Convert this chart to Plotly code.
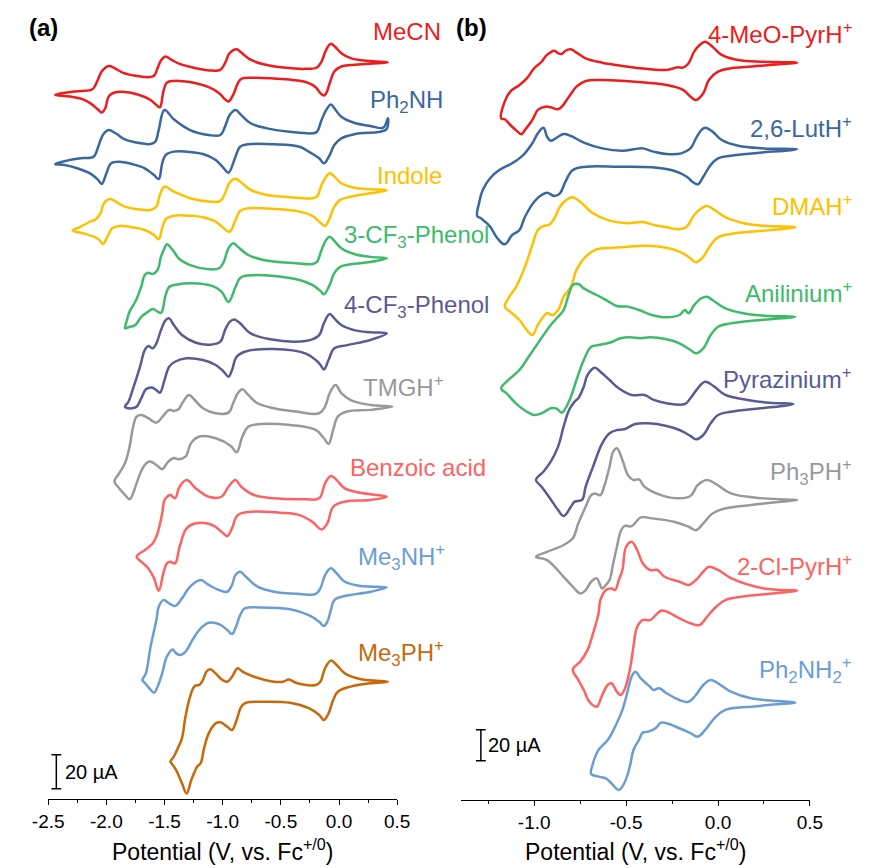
import plotly.graph_objects as go

# ---------------- Panel (a): potential (V vs Fc+/0) and current (uA, relative to switching point)
MECN_E = [-2.44, -2.34, -2.22, -2.12, -2.08, -2.04, -1.98, -1.93, -1.86, -1.75, -1.64, -1.59, -1.56, -1.53, -1.49, -1.45, -1.37, -1.23, -1.09, -1.02, -0.98, -0.94, -0.88, -0.84, -0.77, -0.65, -0.48, -0.29, -0.19, -0.15, -0.11, -0.07, -0.03, 0.02, 0.10, 0.24, 0.42,
          0.32, 0.16, 0.02, -0.04, -0.08, -0.11, -0.13, -0.16, -0.20, -0.27, -0.40, -0.56, -0.73, -0.84, -0.87, -0.91, -0.95, -0.98, -1.03, -1.12, -1.23, -1.34, -1.42, -1.48, -1.51, -1.54, -1.57, -1.63, -1.73, -1.84, -1.93, -1.98, -2.01, -2.04, -2.07, -2.13, -2.21, -2.31, -2.44]
MECN_I = [-19.2, -17.8, -16.9, -15.9, -11.4, -5.5, -2.2, -3.5, -6.1, -8.0, -8.8, -8.0, -3.5, 1.0, 3.3, 1.8, -1.0, -3.5, -4.9, -4.5, -0.6, 5.3, 7.6, 5.7, 1.8, -1.2, -3.1, -3.9, -3.1, 0.4, 7.3, 10.8, 8.8, 5.3, 2.4, 0.8, 0,
          -0.6, -1.4, -2.5, -5.5, -12.4, -18.2, -19.6, -18.2, -14.7, -12.0, -10.4, -9.6, -9.2, -9.8, -12.4, -19.2, -23.1, -21.8, -18.2, -14.7, -12.4, -11.2, -11.0, -12.0, -17.3, -26.5, -25.1, -21.8, -19.0, -17.5, -17.8, -20.2, -27.1, -29.6, -28.0, -24.5, -21.6, -20.2, -19.2]

PH2NH_E = [-2.44, -2.34, -2.22, -2.11, -2.07, -2.03, -1.98, -1.92, -1.84, -1.73, -1.62, -1.58, -1.55, -1.50, -1.42, -1.28, -1.12, -1.02, -0.98, -0.94, -0.89, -0.84, -0.76, -0.62, -0.42, -0.23, -0.19, -0.15, -0.11, -0.07, -0.04, 0.02, 0.13, 0.27, 0.38, 0.42,
           0.41, 0.34, 0.21, 0.13, 0.02, -0.04, -0.08, -0.13, -0.17, -0.26, -0.34, -0.56, -0.78, -0.85, -0.89, -0.95, -0.99, -1.06, -1.17, -1.31, -1.42, -1.49, -1.52, -1.55, -1.59, -1.67, -1.78, -1.89, -1.96, -2.00, -2.04, -2.07, -2.14, -2.25, -2.36, -2.44]
PH2NH_I = [-26.9, -24.9, -23.5, -22.6, -16.7, -9.8, -6.9, -8.8, -12.4, -14.4, -15.1, -13.8, -6.9, 4.9, -0.6, -6.9, -9.8, -9.8, -4.9, 1.9, 4.9, 1.9, -2.9, -5.9, -7.9, -8.8, -7.9, -1.0, 4.9, 8.2, 5.9, 0.9, -2.6, -4.5, -5.5, 0,
           -6.3, -8.1, -8.6, -9.4, -11.8, -15.7, -21.6, -26.5, -23.5, -19.6, -16.7, -15.3, -15.3, -16.7, -22.6, -32.0, -29.4, -24.5, -21.0, -19.6, -19.6, -21.6, -26.5, -35.7, -33.4, -29.4, -26.9, -25.5, -26.5, -32.4, -38.6, -36.3, -32.4, -29.4, -27.5, -26.9]

INDOLE_E = [-2.29, -2.22, -2.14, -2.09, -2.05, -2.02, -1.97, -1.92, -1.84, -1.73, -1.62, -1.57, -1.54, -1.50, -1.42, -1.28, -1.12, -1.02, -0.98, -0.94, -0.89, -0.84, -0.76, -0.62, -0.42, -0.23, -0.19, -0.15, -0.11, -0.08, -0.04, 0.02, 0.13, 0.27, 0.41,
            0.27, 0.10, 0.01, -0.04, -0.08, -0.12, -0.16, -0.23, -0.34, -0.56, -0.78, -0.85, -0.89, -0.94, -0.99, -1.06, -1.17, -1.31, -1.42, -1.49, -1.52, -1.55, -1.59, -1.67, -1.78, -1.89, -1.95, -1.99, -2.03, -2.06, -2.11, -2.20, -2.29]
INDOLE_I = [-23.8, -21.4, -18.5, -17.1, -13.5, -7.6, -5.1, -6.7, -9.6, -11.2, -11.6, -9.6, -2.8, 2.1, -0.8, -4.7, -6.7, -6.3, -1.8, 4.5, 6.8, 4.5, 0.2, -2.8, -4.1, -4.7, -3.8, 3.1, 8.0, 10.0, 8.0, 4.1, 1.5, 0.6, 0,
            -1.8, -3.8, -5.7, -9.6, -16.5, -21.0, -19.1, -15.1, -12.6, -11.0, -10.6, -12.2, -17.5, -24.4, -22.4, -18.5, -15.9, -14.9, -15.1, -17.1, -22.4, -28.8, -26.3, -23.4, -21.8, -21.0, -22.4, -27.3, -31.6, -29.2, -27.3, -25.3, -23.8]

CF3PH3_E = [-1.84, -1.83, -1.80, -1.75, -1.70, -1.67, -1.64, -1.60, -1.56, -1.53, -1.50, -1.48, -1.43, -1.37, -1.26, -1.12, -1.03, -0.99, -0.95, -0.91, -0.87, -0.78, -0.65, -0.37, -0.23, -0.19, -0.15, -0.11, -0.08, -0.04, 0.02, 0.13, 0.27, 0.41,
            0.27, 0.10, 0.01, -0.04, -0.08, -0.13, -0.16, -0.23, -0.34, -0.56, -0.78, -0.85, -0.89, -0.95, -1.01, -1.09, -1.26, -1.39, -1.46, -1.49, -1.53, -1.56, -1.60, -1.64, -1.70, -1.75, -1.81, -1.84]
CF3PH3_I = [-41.2, -38.2, -31.4, -25.5, -16.7, -9.8, -8.5, -9.2, -6.9, 0.9, 5.9, 8.2, 4.9, -0.6, -4.5, -6.5, -5.9, -2.0, 5.9, 8.8, 6.8, 1.9, -1.0, -2.9, -3.4, -2.2, 4.9, 10.8, 12.7, 10.2, 5.9, 2.5, 0.8, 0,
            -2.2, -3.6, -5.1, -8.6, -15.7, -21.2, -19.2, -15.7, -12.8, -10.4, -10.1, -11.6, -16.9, -25.7, -19.6, -16.3, -14.7, -15.4, -16.9, -21.6, -32.2, -31.4, -29.8, -31.4, -34.5, -39.2, -40.6, -41.2]

CF3PH4_E = [-1.84, -1.81, -1.77, -1.71, -1.67, -1.64, -1.60, -1.57, -1.53, -1.49, -1.46, -1.42, -1.35, -1.23, -1.09, -1.02, -0.98, -0.94, -0.90, -0.85, -0.76, -0.59, -0.37, -0.23, -0.17, -0.13, -0.08, -0.04, 0.02, 0.13, 0.27, 0.41,
            0.27, 0.07, -0.04, -0.09, -0.13, -0.17, -0.29, -0.56, -0.81, -0.88, -0.92, -0.95, -0.99, -1.06, -1.17, -1.31, -1.41, -1.46, -1.50, -1.54, -1.57, -1.61, -1.66, -1.70, -1.74, -1.78, -1.84]
CF3PH4_I = [-43.2, -40.2, -32.4, -19.6, -9.8, -7.5, -8.8, -5.9, 2.0, 7.8, 8.8, 4.9, -1.0, -5.5, -6.5, -4.9, 1.9, 6.8, 8.2, 5.9, 0, -3.5, -4.9, -3.5, -1.0, 5.9, 11.4, 8.8, 4.9, 1.9, 0.6, 0,
            -3.9, -6.9, -8.8, -15.7, -21.2, -17.6, -11.8, -9.2, -10.8, -13.8, -21.6, -25.5, -22.6, -18.6, -15.7, -14.7, -16.7, -19.6, -27.5, -34.9, -33.4, -31.8, -32.9, -38.2, -43.2, -44.1, -43.2]

TMGH_E = [-1.93, -1.89, -1.84, -1.80, -1.77, -1.74, -1.70, -1.64, -1.57, -1.52, -1.46, -1.42, -1.38, -1.34, -1.29, -1.24, -1.17, -1.06, -0.95, -0.91, -0.87, -0.83, -0.78, -0.70, -0.56, -0.37, -0.17, -0.12, -0.08, -0.03, 0.02, 0.10, 0.27, 0.46,
          0.27, 0.07, -0.01, -0.05, -0.09, -0.13, -0.20, -0.42, -0.67, -0.78, -0.83, -0.88, -0.93, -1.06, -1.20, -1.27, -1.32, -1.38, -1.42, -1.47, -1.52, -1.57, -1.63, -1.68, -1.73, -1.77, -1.80, -1.84, -1.89, -1.93]
TMGH_I = [-44.1, -39.2, -33.3, -23.5, -11.8, -5.9, -4.9, -6.8, -9.4, -6.2, -1.9, -2.5, -1.5, 2.9, 6.9, 3.9, -0.9, -3.9, -3.5, 2.0, 7.9, 10.2, 6.9, 2.0, -0.9, -2.9, -3.9, 0, 7.9, 12.8, 7.9, 3.9, 1.0, 0,
          -1.9, -2.9, -5.9, -13.7, -21.9, -18.6, -13.7, -10.8, -10.2, -11.8, -17.6, -26.8, -23.1, -18.6, -17.6, -21.2, -29.4, -30.9, -30.2, -32.5, -36.8, -34.3, -32.3, -35.3, -43.1, -50.9, -54.5, -51.9, -48.0, -44.1]

BENZ_E = [-1.74, -1.67, -1.60, -1.56, -1.52, -1.50, -1.47, -1.45, -1.41, -1.37, -1.31, -1.23, -1.12, -1.01, -0.95, -0.89, -0.84, -0.73, -0.56, -0.29, -0.17, -0.12, -0.07, -0.02, 0.05, 0.21, 0.41,
          0.27, 0.05, -0.05, -0.10, -0.15, -0.23, -0.34, -0.51, -0.76, -0.87, -0.92, -0.96, -1.01, -1.09, -1.23, -1.31, -1.37, -1.41, -1.45, -1.48, -1.51, -1.55, -1.59, -1.64, -1.70, -1.74]
BENZ_I = [-35.3, -31.4, -27.4, -21.5, -9.8, -1.9, 0.4, 1.0, -0.9, 5.9, 9.8, 4.9, 0, 0, 5.9, 9.8, 5.9, 1.0, -0.9, -1.5, -0.9, 7.9, 12.2, 9.8, 4.9, 2.0, 0,
          -1.9, -2.9, -5.9, -15.6, -19.2, -14.7, -10.8, -9.4, -8.8, -10.8, -18.6, -23.1, -20.6, -16.6, -15.6, -18.6, -29.4, -39.2, -38.2, -39.2, -45.1, -55.3, -48.0, -42.1, -38.2, -35.3]

ME3NH_E = [-1.69, -1.66, -1.62, -1.57, -1.55, -1.51, -1.46, -1.41, -1.35, -1.28, -1.19, -1.12, -1.03, -0.96, -0.92, -0.89, -0.85, -0.80, -0.70, -0.56, -0.34, -0.20, -0.16, -0.12, -0.07, -0.02, 0.05, 0.19, 0.41,
           0.27, 0.05, -0.04, -0.07, -0.10, -0.13, -0.17, -0.26, -0.42, -0.67, -0.81, -0.85, -0.89, -0.92, -0.96, -1.03, -1.12, -1.19, -1.26, -1.32, -1.37, -1.41, -1.43, -1.48, -1.52, -1.56, -1.59, -1.63, -1.67, -1.69]
ME3NH_I = [-54.5, -50.6, -34.9, -19.2, -11.4, -7.5, -9.4, -11.0, -6.5, 0.4, 4.3, 1.4, -1.6, -2.6, 1.4, 7.2, 9.2, 6.2, 0.4, -2.6, -3.9, -3.9, -0.6, 7.2, 11.2, 8.2, 3.3, 0.8, 0,
           -2.6, -5.1, -7.5, -13.4, -20.2, -22.8, -20.2, -16.3, -12.9, -11.8, -12.4, -16.3, -24.1, -27.5, -25.1, -21.6, -20.8, -24.1, -31.0, -37.9, -39.8, -38.1, -36.5, -40.8, -50.6, -58.5, -62.0, -59.4, -56.1, -54.5]

ME3PH_E = [-1.45, -1.42, -1.38, -1.35, -1.32, -1.28, -1.24, -1.20, -1.17, -1.14, -1.11, -1.06, -1.01, -0.96, -0.92, -0.87, -0.83, -0.73, -0.56, -0.48, -0.43, -0.37, -0.20, -0.16, -0.12, -0.07, -0.02, 0.05, 0.19, 0.42,
           0.27, 0.10, -0.01, -0.05, -0.09, -0.13, -0.17, -0.26, -0.42, -0.67, -0.80, -0.84, -0.88, -0.92, -0.96, -1.02, -1.06, -1.12, -1.16, -1.19, -1.22, -1.24, -1.27, -1.31, -1.35, -1.40, -1.44, -1.45]
ME3PH_I = [-47.1, -44.1, -38.2, -33.3, -20.6, -8.8, -2.5, -1.9, 1.0, 5.9, 7.3, 4.9, 1.4, 0, 2.9, 7.9, 5.9, 2.9, 0, 0, 1.3, -0.6, -1.9, 0, 7.9, 12.4, 9.8, 4.9, 1.4, 0,
           -0.9, -2.9, -5.9, -10.8, -18.6, -22.5, -19.6, -15.6, -12.4, -11.8, -12.4, -14.7, -22.5, -28.4, -26.5, -23.9, -24.5, -30.4, -39.2, -48.0, -50.0, -52.9, -57.8, -65.7, -59.8, -52.0, -48.0, -47.1]

# ---------------- Panel (b)
MEOPYR_E = [-1.18, -1.17, -1.13, -1.08, -1.04, -1.00, -0.96, -0.93, -0.89, -0.87, -0.85, -0.83, -0.80, -0.77, -0.72, -0.63, -0.52, -0.38, -0.28, -0.22, -0.19, -0.16, -0.13, -0.10, -0.07, -0.03, 0.02, 0.11, 0.25, 0.43,
            0.35, 0.25, 0.07, 0.00, -0.05, -0.08, -0.12, -0.15, -0.19, -0.28, -0.45, -0.63, -0.72, -0.77, -0.81, -0.85, -0.87, -0.91, -0.94, -0.98, -1.01, -1.05, -1.07, -1.09, -1.13, -1.16, -1.18]
MEOPYR_I = [-35.9, -28.4, -18.7, -14.4, -10.1, -3.6, 0.6, 5.0, 7.7, 6.1, 5.6, 7.7, 8.6, 6.5, 2.8, 0, -2.1, -4.1, -4.7, -3.0, -3.2, -0.4, 7.1, 11.4, 13.5, 10.3, 5.0, 1.7, 0.6, 0,
            -0.8, -1.9, -3.6, -5.8, -11.2, -19.7, -24.1, -21.9, -17.6, -14.4, -12.3, -11.2, -11.8, -15.5, -21.9, -28.4, -30.1, -28.8, -28.4, -30.5, -37.0, -43.4, -46.2, -44.5, -40.2, -36.5, -35.9]

LUT_E = [-1.31, -1.30, -1.28, -1.24, -1.19, -1.12, -1.06, -1.01, -0.98, -0.95, -0.93, -0.91, -0.87, -0.84, -0.80, -0.73, -0.63, -0.52, -0.45, -0.41, -0.35, -0.28, -0.20, -0.15, -0.12, -0.09, -0.07, -0.03, 0.02, 0.11, 0.25, 0.43,
         0.35, 0.25, 0.07, 0.00, -0.04, -0.08, -0.11, -0.14, -0.17, -0.24, -0.36, -0.54, -0.72, -0.79, -0.83, -0.86, -0.89, -0.93, -0.96, -1.00, -1.05, -1.08, -1.12, -1.16, -1.20, -1.24, -1.29, -1.31]
LUT_I = [-43.0, -34.8, -26.3, -18.7, -13.4, -9.0, -3.7, 3.9, 10.3, 13.9, 8.1, 5.5, 8.1, 9.9, 8.6, 4.3, 0.6, -0.9, 0.2, 0.6, -1.5, -3.0, -2.6, 0.6, 7.1, 12.5, 13.9, 11.4, 6.0, 2.3, 0.6, 0,
         -1.1, -1.9, -4.1, -5.8, -10.1, -17.7, -22.6, -20.9, -17.7, -13.8, -11.6, -11.2, -11.2, -13.4, -20.9, -28.4, -30.1, -28.0, -29.5, -33.8, -43.5, -52.1, -55.3, -61.3, -57.4, -49.9, -44.5, -43.0]

DMAH_E = [-1.16, -1.14, -1.10, -1.08, -1.05, -1.01, -0.98, -0.95, -0.92, -0.89, -0.86, -0.82, -0.79, -0.75, -0.68, -0.59, -0.49, -0.41, -0.35, -0.28, -0.21, -0.17, -0.13, -0.09, -0.06, -0.02, 0.04, 0.14, 0.25, 0.42,
          0.35, 0.23, 0.07, 0.00, -0.04, -0.08, -0.12, -0.15, -0.21, -0.28, -0.40, -0.49, -0.58, -0.66, -0.72, -0.77, -0.80, -0.84, -0.87, -0.90, -0.93, -0.95, -0.98, -1.01, -1.04, -1.08, -1.13, -1.16]
DMAH_I = [-51.2, -45.8, -38.7, -34.0, -25.4, -11.4, -1.7, 0.8, 1.5, 5.8, 13.3, 18.1, 19.4, 16.5, 9.0, 4.3, 2.6, 3.4, 1.5, 0, -1.3, 0.4, 7.9, 12.3, 13.7, 11.2, 6.5, 2.6, 1.0, 0,
          -1.1, -2.4, -4.3, -6.5, -11.4, -19.0, -22.6, -20.0, -15.7, -13.2, -11.9, -12.5, -13.2, -14.2, -19.0, -27.5, -38.3, -44.8, -53.4, -56.6, -55.5, -57.7, -63.0, -69.5, -66.3, -59.8, -54.5, -51.2]

ANIL_E = [-1.18, -1.14, -1.08, -1.03, -0.98, -0.91, -0.87, -0.84, -0.81, -0.79, -0.76, -0.73, -0.66, -0.61, -0.55, -0.49, -0.43, -0.36, -0.28, -0.21, -0.18, -0.16, -0.13, -0.09, -0.06, -0.03, 0.04, 0.16, 0.28, 0.42,
          0.35, 0.23, 0.07, 0.00, -0.04, -0.08, -0.12, -0.15, -0.21, -0.28, -0.37, -0.42, -0.48, -0.53, -0.59, -0.65, -0.69, -0.73, -0.77, -0.80, -0.83, -0.85, -0.88, -0.91, -0.96, -1.00, -1.04, -1.10, -1.15, -1.18]
ANIL_I = [-46.2, -40.8, -34.4, -25.8, -17.2, -5.4, 0, 4.3, 15.1, 20.5, 21.1, 18.3, 14.0, 10.8, 6.9, 6.5, 4.3, 1.1, -0.4, 1.1, 4.3, 2.2, 7.5, 11.9, 12.9, 10.8, 5.4, 1.7, 0.5, 0,
          -1.0, -2.1, -4.3, -6.5, -11.8, -20.4, -23.6, -21.5, -17.2, -14.6, -13.3, -13.9, -13.3, -13.9, -16.8, -18.3, -19.4, -27.9, -40.8, -51.6, -59.1, -61.9, -59.1, -59.1, -62.3, -63.4, -61.3, -55.9, -49.5, -46.2]

PYRAZ_E = [-0.99, -0.95, -0.91, -0.87, -0.84, -0.81, -0.78, -0.76, -0.73, -0.71, -0.67, -0.64, -0.59, -0.54, -0.47, -0.40, -0.35, -0.28, -0.18, -0.15, -0.11, -0.07, -0.02, 0.04, 0.16, 0.28, 0.41,
           0.35, 0.23, 0.07, 0.00, -0.04, -0.08, -0.12, -0.15, -0.21, -0.28, -0.38, -0.45, -0.51, -0.55, -0.59, -0.63, -0.68, -0.72, -0.74, -0.78, -0.80, -0.84, -0.87, -0.92, -0.96, -0.99]
PYRAZ_I = [-49.0, -43.7, -37.2, -27.5, -14.6, -3.9, 1.5, 3.7, 11.2, 18.7, 23.4, 20.8, 15.5, 10.1, 5.8, 5.8, 2.6, 0.5, 0, 3.7, 10.1, 14.4, 11.2, 5.8, 2.6, 0.8, 0,
           -1.3, -2.8, -5.0, -7.1, -12.5, -20.0, -22.8, -20.6, -16.8, -14.2, -12.5, -12.9, -16.3, -16.8, -18.9, -25.4, -40.5, -53.4, -61.9, -63.0, -66.3, -72.3, -68.4, -59.8, -53.4, -49.0]

PH3PH_E = [-0.99, -0.93, -0.84, -0.79, -0.76, -0.72, -0.69, -0.67, -0.64, -0.62, -0.59, -0.57, -0.55, -0.52, -0.49, -0.46, -0.43, -0.40, -0.31, -0.21, -0.15, -0.11, -0.06, -0.01, 0.07, 0.25, 0.43,
           0.34, 0.18, 0.04, -0.03, -0.08, -0.12, -0.16, -0.24, -0.36, -0.42, -0.47, -0.51, -0.53, -0.55, -0.57, -0.59, -0.61, -0.63, -0.66, -0.69, -0.72, -0.75, -0.79, -0.84, -0.93, -0.99]
PH3PH_I = [-36.6, -33.4, -29.0, -24.7, -15.0, -4.3, 3.2, 4.3, 3.2, 8.6, 21.5, 31.2, 33.4, 25.8, 16.1, 12.9, 13.4, 8.6, 3.2, 1.1, 2.6, 9.7, 12.9, 10.3, 4.3, 1.1, 0,
           -1.1, -3.2, -5.4, -8.6, -15.0, -19.4, -17.2, -14.0, -11.8, -11.2, -16.8, -16.8, -20.4, -30.1, -40.8, -51.6, -54.8, -57.0, -50.5, -52.7, -58.1, -60.2, -55.9, -49.5, -38.7, -36.6]

CLPYR_E = [-0.79, -0.75, -0.71, -0.68, -0.65, -0.64, -0.61, -0.58, -0.56, -0.54, -0.52, -0.50, -0.47, -0.44, -0.41, -0.37, -0.33, -0.29, -0.21, -0.16, -0.12, -0.08, -0.05, 0.00, 0.07, 0.25, 0.43,
           0.34, 0.16, 0.04, -0.01, -0.06, -0.10, -0.15, -0.21, -0.28, -0.31, -0.37, -0.41, -0.44, -0.46, -0.48, -0.51, -0.53, -0.55, -0.58, -0.60, -0.63, -0.66, -0.70, -0.73, -0.76, -0.79]
CLPYR_I = [-50.7, -45.8, -38.3, -27.5, -14.6, -6.0, 0.5, 1.5, 0.5, 6.9, 13.4, 28.4, 31.6, 26.3, 17.7, 13.4, 13.4, 9.0, 5.8, 3.7, 6.9, 12.3, 15.5, 13.4, 8.2, 1.5, 0,
           -1.3, -3.4, -6.0, -10.3, -16.8, -22.1, -21.0, -17.8, -13.5, -12.9, -18.9, -18.9, -23.2, -36.1, -51.2, -64.1, -67.3, -65.2, -59.7, -60.8, -67.3, -74.8, -71.6, -64.1, -57.6, -50.7]

PH2NH2_E = [-0.69, -0.68, -0.65, -0.60, -0.56, -0.52, -0.49, -0.47, -0.45, -0.42, -0.37, -0.35, -0.32, -0.28, -0.21, -0.16, -0.12, -0.08, -0.04, 0.00, 0.07, 0.18, 0.42,
            0.34, 0.18, 0.04, -0.02, -0.07, -0.11, -0.15, -0.21, -0.28, -0.31, -0.34, -0.38, -0.41, -0.43, -0.46, -0.48, -0.51, -0.54, -0.58, -0.61, -0.65, -0.69]
PH2NH2_I = [-46.0, -39.1, -30.5, -24.1, -15.5, -4.7, 8.2, 16.8, 20.0, 15.7, 10.3, 8.2, 9.3, 6.1, 1.7, 0.6, 5.0, 11.4, 14.6, 12.5, 7.1, 2.8, 0,
            -0.8, -2.6, -4.7, -10.1, -17.6, -21.9, -19.7, -16.5, -13.3, -12.9, -16.5, -18.7, -19.4, -24.1, -30.5, -41.3, -52.0, -56.3, -52.0, -48.8, -47.7, -46.0]

# vertical stacking offsets (uA) of each trace's switching point
OFFSET_A = [433.4, 400.4, 358.1, 318.1, 273.9, 230.8, 177.8, 124.5, 69.0]
OFFSET_B = [475.7, 419.8, 369.5, 311.8, 255.5, 193.5, 135.0, 62.8]

LABELS_A = ["MeCN", "Ph<sub>2</sub>NH", "Indole", "3-CF<sub>3</sub>-Phenol", "4-CF<sub>3</sub>-Phenol",
            "TMGH<sup>+</sup>", "Benzoic acid", "Me<sub>3</sub>NH<sup>+</sup>", "Me<sub>3</sub>PH<sup>+</sup>"]
LABELS_B = ["4-MeO-PyrH<sup>+</sup>", "2,6-LutH<sup>+</sup>", "DMAH<sup>+</sup>", "Anilinium<sup>+</sup>",
            "Pyrazinium<sup>+</sup>", "Ph<sub>3</sub>PH<sup>+</sup>", "2-Cl-PyrH<sup>+</sup>", "Ph<sub>2</sub>NH<sub>2</sub><sup>+</sup>"]

TICKS_A = [-2.5, -2.0, -1.5, -1.0, -0.5, 0.0, 0.5]
TICKS_B = [-1.0, -0.5, 0.0, 0.5]
SCALE_UA = 20

# ---------------- styling / layout constants
RED, BLUE, YEL, GRN, PUR, GRY, LRED, LBLU, ORG = (
    "#EE1C1C", "#3A679E", "#FFC000", "#3DBB6A", "#5B5B93", "#999999", "#FF6262", "#6A9ED3", "#C8680A")
COLORS_A = [RED, BLUE, YEL, GRN, PUR, GRY, LRED, LBLU, ORG]
COLORS_B = [RED, BLUE, YEL, GRN, PUR, GRY, LRED, LBLU]
FONT = "Liberation Sans, Arial, sans-serif"
W, H = 870, 868

curves_a = [(MECN_E, MECN_I), (PH2NH_E, PH2NH_I), (INDOLE_E, INDOLE_I), (CF3PH3_E, CF3PH3_I),
            (CF3PH4_E, CF3PH4_I), (TMGH_E, TMGH_I), (BENZ_E, BENZ_I), (ME3NH_E, ME3NH_I), (ME3PH_E, ME3PH_I)]
curves_b = [(MEOPYR_E, MEOPYR_I), (LUT_E, LUT_I), (DMAH_E, DMAH_I), (ANIL_E, ANIL_I),
            (PYRAZ_E, PYRAZ_I), (PH3PH_E, PH3PH_I), (CLPYR_E, CLPYR_I), (PH2NH2_E, PH2NH2_I)]

fig = go.Figure()


def add_curves(curves, offsets, colors, xa, ya):
    for (e, i), off, col in zip(curves, offsets, colors):
        n = min(len(e), len(i))
        fig.add_trace(go.Scatter(
            x=e[:n], y=[v + off for v in i[:n]], mode="lines",
            line=dict(color=col, width=2.5, shape="spline", smoothing=1.1),
            xaxis=xa, yaxis=ya, showlegend=False, hoverinfo="skip"))


add_curves(curves_a, OFFSET_A, COLORS_A, "x", "y")
add_curves(curves_b, OFFSET_B, COLORS_B, "x2", "y2")

# scale bars (20 uA)
for xa, ya, xv, y0 in (("x", "y", -2.43, 6.0), ("x2", "y2", -1.29, 25.4)):
    fig.add_trace(go.Scatter(
        x=[xv, xv], y=[y0, y0 + SCALE_UA], mode="lines+markers",
        line=dict(color="black", width=1.5),
        marker=dict(symbol="line-ew", size=7, line=dict(width=1.5, color="black")),
        xaxis=xa, yaxis=ya, showlegend=False, hoverinfo="skip"))


def px(x):
    return x / W


def py(y):
    return 1 - y / H


axis_common = dict(showline=True, linecolor="black", linewidth=1.3, ticks="outside", ticklen=5,
                   tickwidth=1.3, tickcolor="black", showgrid=False, zeroline=False,
                   tickfont=dict(family=FONT, size=19, color="black"))

fig.update_layout(
    width=W, height=H, margin=dict(l=0, r=0, t=0, b=0),
    paper_bgcolor="white", plot_bgcolor="white",
    font=dict(family=FONT, color="black"),
    xaxis=dict(domain=[px(33.3), px(394.3)], range=[-2.5, 0.5], anchor="y",
               tickvals=TICKS_A, ticktext=[f"{t:.1f}" for t in TICKS_A],
               minor=dict(tickvals=[-2.25, -1.75, -1.25, -0.75, -0.25, 0.25], ticks="outside",
                          ticklen=3, tickwidth=1.3, tickcolor="black"),
               **axis_common),
    yaxis=dict(domain=[py(799), 1], range=[0, 799 / 1.7], visible=False, anchor="x"),
    xaxis2=dict(domain=[px(460), px(821.3)], range=[-1.4, 0.5], anchor="y2",
                tickvals=TICKS_B, ticktext=[f"{t:.1f}" for t in TICKS_B],
                minor=dict(tickvals=[-1.25, -0.75, -0.25, 0.25], ticks="outside",
                           ticklen=3, tickwidth=1.3, tickcolor="black"),
                **axis_common),
    yaxis2=dict(domain=[py(800), 1], range=[0, 800 / 1.55], visible=False, anchor="x2"),
)

ann = []
# panel (a) labels: left edge / vertical centre (px)
LAB_A_POS = [(367, 32), (364, 101), (371, 175), (337, 236), (337, 306), (357, 386), (343, 467), (352, 557), (352, 653)]
# panel (b) labels: right edge / vertical centre (px)
LAB_B_POS = [(867, 33), (867, 127), (867, 205), (867, 292), (867, 378), (867, 472), (867, 565), (867, 670)]
for txt, (x, y), col in zip(LABELS_A, LAB_A_POS, COLORS_A):
    ann.append(dict(text=txt, x=px(x), y=py(y), xref="paper", yref="paper", xanchor="left",
                    yanchor="middle", showarrow=False, font=dict(family=FONT, size=24, color=col)))
for txt, (x, y), col in zip(LABELS_B, LAB_B_POS, COLORS_B):
    ann.append(dict(text=txt, x=px(x), y=py(y), xref="paper", yref="paper", xanchor="right",
                    yanchor="middle", showarrow=False, font=dict(family=FONT, size=24, color=col)))

for txt, x, y in (("<b>(a)</b>", 11, 27), ("<b>(b)</b>", 453, 27)):
    ann.append(dict(text=txt, x=px(x), y=py(y), xref="paper", yref="paper", xanchor="left",
                    yanchor="middle", showarrow=False, font=dict(family=FONT, size=24, color="black")))

for x, y in ((49, 772), (486, 745)):
    ann.append(dict(text="20 µA", x=px(x), y=py(y), xref="paper", yref="paper", xanchor="left",
                    yanchor="middle", showarrow=False, font=dict(family=FONT, size=20, color="black")))

for x in (213.8, 640.7):
    ann.append(dict(text="Potential (V, vs. Fc<sup>+/0</sup>)", x=px(x), y=py(850), xref="paper",
                    yref="paper", xanchor="center", yanchor="middle", showarrow=False,
                    font=dict(family=FONT, size=23, color="black")))

fig.update_layout(annotations=ann)
fig.write_html("out.html", config={"displayModeBar": False},
               post_script="document.body.style.margin='0px';document.body.style.overflow='hidden';")
